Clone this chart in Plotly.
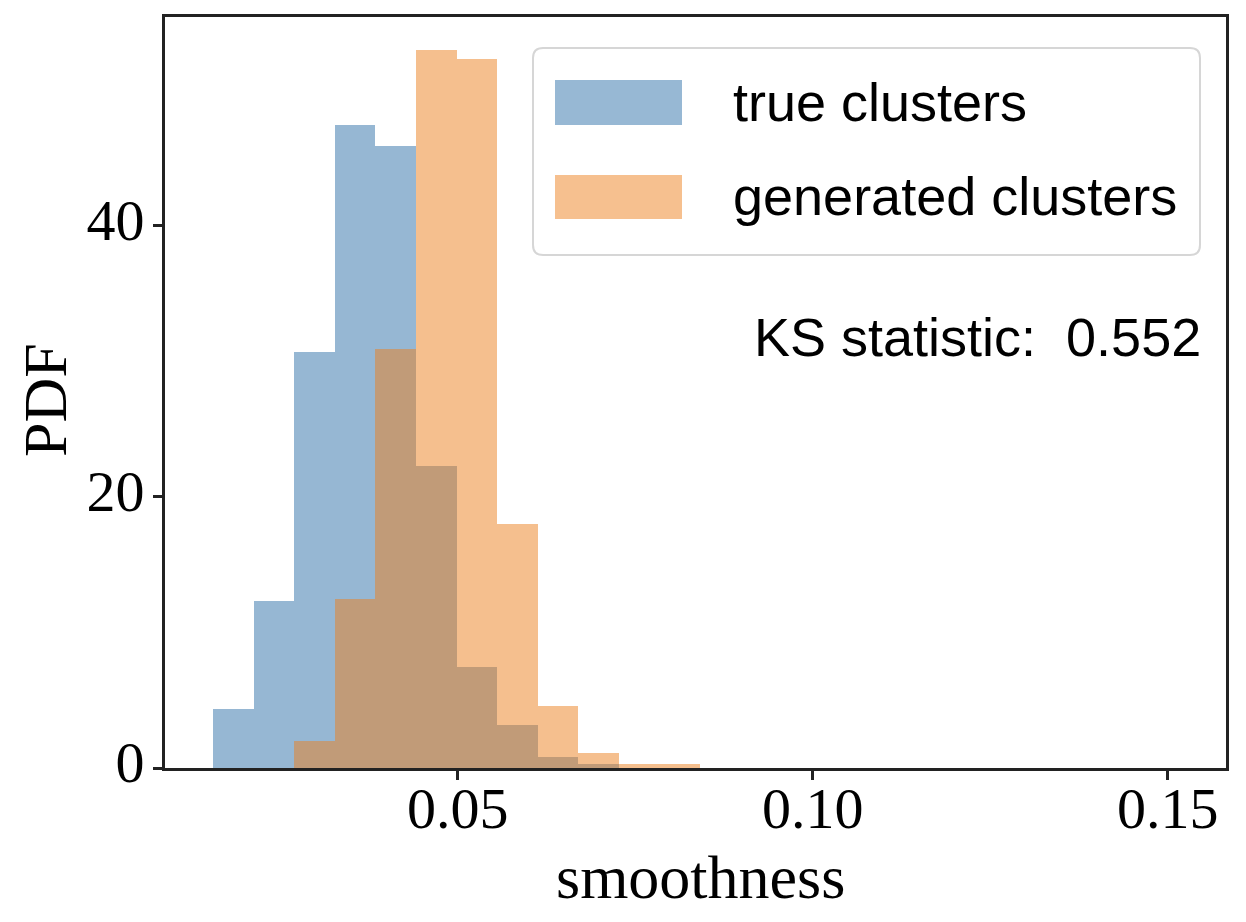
import plotly.graph_objects as go

# ---- data ----
bin_centers = [0.01843, 0.02414, 0.02985, 0.03556, 0.04127, 0.04698,
               0.05269, 0.05840, 0.06411, 0.06982, 0.07553, 0.08124]
bin_width = 0.00571
true_pdf = [4.37, 12.35, 30.7, 47.45, 45.9, 22.3, 7.45, 3.2, 0.83, 0.3, 0.0, 0.0]
gen_pdf = [0.0, 0.0, 2.02, 12.5, 30.9, 52.96, 52.3, 18.0, 4.54, 1.14, 0.33, 0.33]
series_names = ["true clusters", "generated clusters"]
x_ticks = [0.05, 0.10, 0.15]
x_tick_labels = ["0.05", "0.10", "0.15"]
y_ticks = [0, 20, 40]
y_tick_labels = ["0", "20", "40"]
x_title = "smoothness"
y_title = "PDF"
ks_text = "KS statistic:\u00a0 0.552"

BLUE = "rgb(47,113,169)"
ORANGE = "rgb(237,129,31)"
SERIF = "Liberation Serif, Times New Roman, serif"
SANS = "Liberation Sans, Arial, sans-serif"

fig = go.Figure()
fig.add_trace(go.Bar(x=bin_centers, y=true_pdf, width=bin_width, name=series_names[0],
                     marker=dict(color=BLUE, line=dict(width=0)), opacity=0.5))
fig.add_trace(go.Bar(x=bin_centers, y=gen_pdf, width=bin_width, name=series_names[1],
                     marker=dict(color=ORANGE, line=dict(width=0)), opacity=0.5))

# page body margin offsets the figure by 8px; work in screen pixels
OFF = 8
W, H = 1246 - OFF, 922 - OFF
L, R, T, B = 165 - OFF, 1226 - OFF, 17 - OFF, 768 - OFF
PW, PH = R - L, B - T
def px(x):
    return (x - OFF - L) / PW
def py(y):
    return (B - (y - OFF)) / PH

shapes = []
# rounded legend frame
x0, x1, y0, y1, rad = 533, 1200, 48, 255, 10
path = (f"M {px(x0+rad)},{py(y0)} L {px(x1-rad)},{py(y0)} "
        f"Q {px(x1)},{py(y0)} {px(x1)},{py(y0+rad)} L {px(x1)},{py(y1-rad)} "
        f"Q {px(x1)},{py(y1)} {px(x1-rad)},{py(y1)} L {px(x0+rad)},{py(y1)} "
        f"Q {px(x0)},{py(y1)} {px(x0)},{py(y1-rad)} L {px(x0)},{py(y0+rad)} "
        f"Q {px(x0)},{py(y0)} {px(x0+rad)},{py(y0)} Z")
shapes.append(dict(type="path", xref="paper", yref="paper", path=path,
                   fillcolor="rgba(255,255,255,0.8)",
                   line=dict(color="rgba(210,210,210,0.9)", width=2), layer="above"))
patch_rows = [(80, 125), (175, 219)]
colors = [BLUE, ORANGE]
annotations = []
for (ya, yb), c, name in zip(patch_rows, colors, series_names):
    shapes.append(dict(type="rect", xref="paper", yref="paper",
                       x0=px(555), x1=px(682), y0=py(yb), y1=py(ya),
                       fillcolor=c, opacity=0.5, line=dict(width=0), layer="above"))
    annotations.append(dict(xref="paper", yref="paper", x=px(731), y=py((ya + yb) / 2 - 1),
                            xanchor="left", yanchor="middle", text=name, showarrow=False,
                            font=dict(family=SANS, size=54, color="black")))
annotations.append(dict(xref="paper", yref="paper", x=px(1203), y=py(337),
                        xanchor="right", yanchor="middle", text=ks_text, showarrow=False,
                        font=dict(family=SANS, size=54, color="black")))
# axis titles
annotations.append(dict(xref="paper", yref="paper", x=px(700), y=py(877),
                        xanchor="center", yanchor="middle", text=x_title, showarrow=False,
                        font=dict(family=SERIF, size=62, color="black")))
annotations.append(dict(xref="paper", yref="paper", x=px(45), y=py(400),
                        xanchor="center", yanchor="middle", text=y_title, showarrow=False,
                        textangle=-90, font=dict(family=SERIF, size=62, color="black")))

fig.update_layout(
    width=W, height=H,
    margin=dict(l=L, r=W - R, t=T, b=H - B, autoexpand=False),
    barmode="overlay", bargap=0,
    plot_bgcolor="white", paper_bgcolor="white",
    showlegend=False,
    shapes=shapes, annotations=annotations,
    font=dict(family=SERIF, color="black"),
)
fig.update_xaxes(
    range=[0.00877, 0.15821], tickvals=x_ticks, ticktext=x_tick_labels,
    showgrid=False, zeroline=False, showline=True, mirror=True, automargin=False,
    linecolor="#222222", linewidth=3, ticks="outside", ticklen=9, tickwidth=3,
    tickcolor="#222222", tickfont=dict(family=SERIF, size=58, color="black"),
    ticklabelstandoff=-22,
)
fig.update_yaxes(
    range=[0, 55.4], tickvals=y_ticks, ticktext=y_tick_labels,
    showgrid=False, zeroline=False, showline=True, mirror=True, automargin=False,
    linecolor="#222222", linewidth=3, ticks="outside", ticklen=9, tickwidth=3,
    tickcolor="#222222", tickfont=dict(family=SERIF, size=58, color="black"),
    ticklabelshift=-6, ticklabelstandoff=-3,
)

fig.write_html("out.html")
